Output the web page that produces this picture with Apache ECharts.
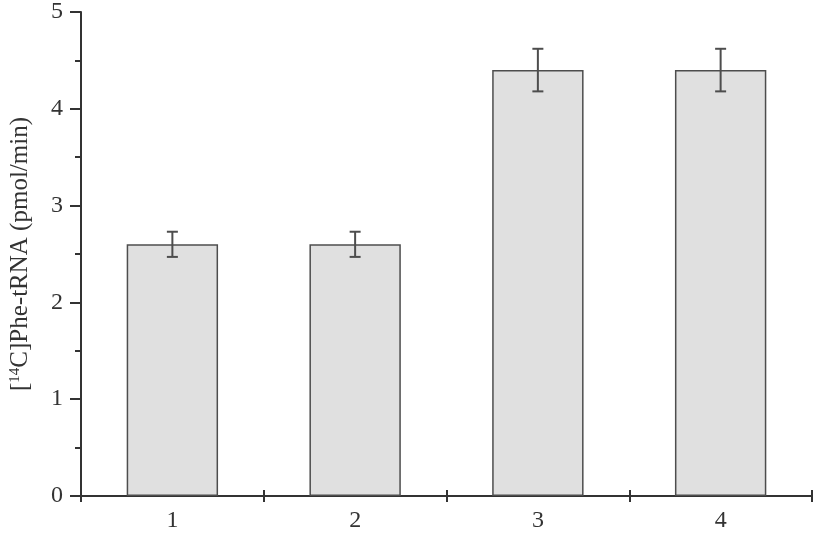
<!DOCTYPE html>
<html>
<head>
<meta charset="utf-8">
<script src="https://cdn.jsdelivr.net/npm/echarts@6/dist/echarts.min.js"></script>
<style>
html, body { margin: 0; padding: 0; background: #fff; }
#main { width: 814px; height: 533px; }
</style>
</head>
<body>
<div id="main"></div>
<script>
var categories = ['1', '2', '3', '4'];
var values = [2.6, 2.6, 4.4, 4.4];
var errors = [0.13, 0.13, 0.22, 0.22];

var font = '"Liberation Serif", "Times New Roman", serif';
var axisColor = '#333333';

var errData = categories.map(function (c, i) {
    return [i, values[i] - errors[i], values[i] + errors[i]];
});

var myChart = echarts.init(document.getElementById('main'));
var option = {
    backgroundColor: '#ffffff',
    animation: false,
    grid: { left: 79, right: 2, top: 12, bottom: 33 },
    xAxis: [{
        type: 'category',
        data: categories,
        axisLine: { lineStyle: { color: axisColor, width: 2 } },
        axisTick: { show: true, length: 6, lineStyle: { color: axisColor, width: 2 } },
        axisLabel: { margin: 13, fontFamily: font, fontSize: 24, color: axisColor }
    }, {
        type: 'category',
        data: categories,
        position: 'bottom',
        axisLine: { show: false },
        axisTick: { show: true, inside: true, length: 6, lineStyle: { color: axisColor, width: 2 } },
        axisLabel: { show: false }
    }],
    yAxis: {
        type: 'value',
        min: 0,
        max: 5,
        interval: 1,
        name: '{a|[}{sup|14}{a|C]Phe-tRNA (pmol/min)}',
        nameLocation: 'middle',
        nameGap: 48,
        nameTextStyle: {
            rich: {
                a: { fontFamily: font, fontSize: 25, color: axisColor },
                sup: { fontFamily: font, fontSize: 15, color: axisColor, verticalAlign: 'top' }
            }
        },
        axisLine: { show: true, lineStyle: { color: axisColor, width: 2 } },
        axisTick: { show: true, length: 11, lineStyle: { color: axisColor, width: 2 } },
        minorTick: { show: true, splitNumber: 2, length: 6, lineStyle: { color: axisColor, width: 2 } },
        splitLine: { show: false },
        axisLabel: { margin: 18, fontFamily: font, fontSize: 24, color: axisColor }
    },
    series: [{
        type: 'bar',
        data: values,
        barWidth: '50%',
        itemStyle: { color: '#e0e0e0', borderColor: '#4d4d4d', borderWidth: 1.5 }
    }, {
        type: 'custom',
        data: errData,
        z: 10,
        renderItem: function (params, api) {
            var x = api.value(0);
            var lo = api.coord([x, api.value(1)]);
            var hi = api.coord([x, api.value(2)]);
            var hw = 5.5;
            var style = { stroke: '#4d4d4d', lineWidth: 2 };
            return {
                type: 'group',
                children: [
                    { type: 'line', shape: { x1: lo[0], y1: lo[1], x2: hi[0], y2: hi[1] }, style: style },
                    { type: 'line', shape: { x1: lo[0] - hw, y1: lo[1], x2: lo[0] + hw, y2: lo[1] }, style: style },
                    { type: 'line', shape: { x1: hi[0] - hw, y1: hi[1], x2: hi[0] + hw, y2: hi[1] }, style: style }
                ]
            };
        }
    }]
};
myChart.setOption(option);

window.onresize = function () {
    myChart.resize();
};
</script>
</body>
</html>
